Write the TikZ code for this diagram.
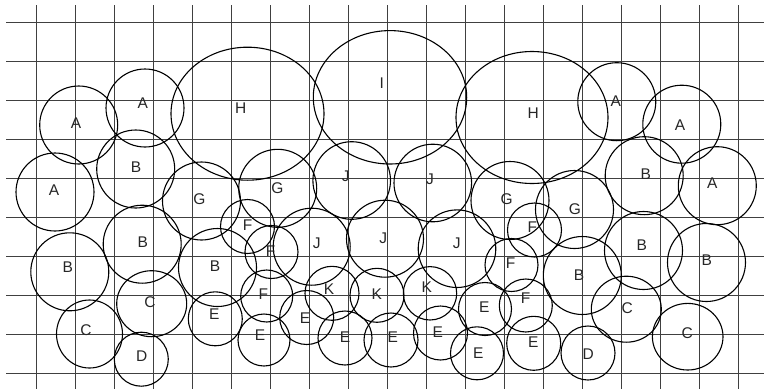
\documentclass[tikz,border=0pt]{standalone}
\usepackage{fontspec}
\setmainfont{Liberation Sans}
\begin{document}
\begin{tikzpicture}[x=1pt,y=-1pt,
  gridline/.style={draw=black!75, line width=1.35pt},
  ring/.style={draw=black, line width=1.1pt},
  lab/.style={inner sep=0pt, font=\fontsize{15.5}{18}\selectfont, text=black!85}]
\useasboundingbox (0,0) rectangle (764,389);
% grid
\foreach \i in {0,...,18} {\draw[gridline] ({36.7+39*\i},5) -- ({36.7+39*\i},389);}
\foreach \j in {0,...,9} {\draw[gridline] (6,{22.3+39*\j}) -- (764,{22.3+39*\j});}
% circles
\foreach \cx/\cy/\r in {78.7/125/39, 145/108/39, 55/192/39, 616.8/101.7/39, 681.8/124.2/39, 717.3/185.7/39,
  135.7/169/39, 142.2/244.2/39, 69.8/271.8/39, 217.5/267.5/39, 582.3/275.5/39, 643.5/250.5/39, 706.5/262.5/39, 644.2/175.7/39,
  201.5/201/39, 277.7/188.3/39, 510/200.5/39, 574.5/209.5/39,
  351.7/180.5/38.8, 432.8/183/38.8, 311.7/246.7/38.5, 385/238.7/38.5, 457/248.7/38.8,
  247.5/226.5/27, 271.5/252/26.5, 266.7/296/26, 534.5/230/27, 511.5/265/26.5, 525.8/305.5/26.5,
  332/293.3/27, 377/295.3/27, 430/293.3/26.7,
  215.3/318.8/27, 264/340/26, 306.7/317.5/27, 345/338/27, 391/340/27, 440.5/333/27, 485/309/26.5, 477/353.3/26.5, 533.7/343.3/27,
  141.3/359.2/27, 588/353/27}
  {\draw[ring] (\cx,\cy) circle[radius=\r];}
% ellipses
\foreach \cx/\cy/\rx/\ry in {247.5/113.7/76.5/66.5, 390/97.3/76.7/66.7, 532/117.5/76/66,
  89.5/334/33/34, 151.7/303.7/35/33, 626.3/309.2/35/33, 687.7/336.7/35.3/33.3}
  {\draw[ring] (\cx,\cy) ellipse[x radius=\rx, y radius=\ry];}
% labels
\node[lab] (la1) at (76,122.7) {A};
\node[lab] (la2) at (142.7,102.7) {A};
\node[lab] (la3) at (54,190) {A};
\node[lab] (la4) at (615.7,101) {A};
\node[lab] (la5) at (680,125) {A};
\node[lab] (la6) at (712.3,183.3) {A};
\node[lab] (lh1) at (240.7,108.3) {H};
\node[lab] (li1) at (381.7,83.3) {I};
\node[lab] (lh2) at (533.3,112.7) {H};
\node[lab] (lb1) at (136,166.7) {B};
\node[lab] (lb2) at (142.7,242.3) {B};
\node[lab] (lb3) at (67.7,266.7) {B};
\node[lab] (lb4) at (215,266) {B};
\node[lab] (lb5) at (579,275) {B};
\node[lab] (lb6) at (641.7,245) {B};
\node[lab] (lb7) at (706.7,260) {B};
\node[lab] (lb8) at (645.7,174) {B};
\node[lab] (lg1) at (199.3,199.3) {G};
\node[lab] (lg2) at (277.3,188.3) {G};
\node[lab] (lg3) at (506.7,199.3) {G};
\node[lab] (lg4) at (575,209.3) {G};
\node[lab] (lj1) at (345.7,176) {J};
\node[lab] (lj2) at (430,179.3) {J};
\node[lab] (lj3) at (316.7,243.3) {J};
\node[lab] (lj4) at (383.3,238.3) {J};
\node[lab] (lj5) at (456.7,243.3) {J};
\node[lab] (lf1) at (247.5,225.5) {F};
\node[lab] (lf2) at (270.5,251.5) {F};
\node[lab] (lf3) at (263.3,294) {F};
\node[lab] (lf4) at (532.3,226.7) {F};
\node[lab] (lf5) at (510.7,263.3) {F};
\node[lab] (lf6) at (525.7,298.3) {F};
\node[lab] (lk1) at (329,289.3) {K};
\node[lab] (lk2) at (376.7,294) {K};
\node[lab] (lk3) at (426.7,286.7) {K};
\node[lab] (le1) at (214.3,314) {E};
\node[lab] (le2) at (260,335) {E};
\node[lab] (le3) at (305,318.3) {E};
\node[lab] (le4) at (345,336.7) {E};
\node[lab] (le5) at (392.7,336.7) {E};
\node[lab] (le6) at (437.7,331.7) {E};
\node[lab] (le7) at (484.3,307.3) {E};
\node[lab] (le8) at (478.3,352.7) {E};
\node[lab] (le9) at (533.3,341.7) {E};
\node[lab] (lc1) at (86,330) {C};
\node[lab] (lc2) at (150,301.7) {C};
\node[lab] (lc3) at (627.3,308.3) {C};
\node[lab] (lc4) at (687.3,332.7) {C};
\node[lab] (ld1) at (141.7,355.7) {D};
\node[lab] (ld2) at (588.3,354) {D};
\end{tikzpicture}
\end{document}
